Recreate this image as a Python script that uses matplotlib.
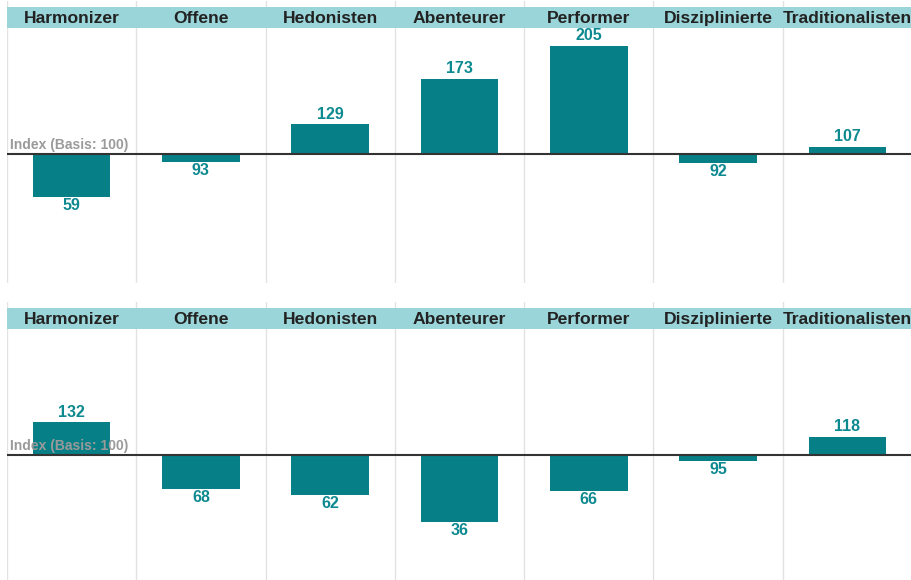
import matplotlib.pyplot as plt

# Sinus-Milieus, Index (Basis: 100)
groups = ["Harmonizer", "Offene", "Hedonisten", "Abenteurer", "Performer",
          "Disziplinierte", "Traditionalisten"]
index_top = [59, 93, 129, 173, 205, 92, 107]
index_bottom = [132, 68, 62, 36, 66, 95, 118]

BAR = "#077f86"
LABEL = "#0d8990"
HEAD = "#9ad5d9"
GRID = "#e2e2e2"

plt.rcParams["font.family"] = ["Liberation Sans", "DejaVu Sans"]

W, H = 912, 580
fig = plt.figure(figsize=(W / 100, H / 100), dpi=100)


def px_axes(x0, y0, x1, y1):
    # pixel box (top-left origin) -> figure axes
    return fig.add_axes([x0 / W, 1 - y1 / H, (x1 - x0) / W, (y1 - y0) / H])


def panel(values, top):
    head_top, head_bot, bottom = top, top + 21, top + 276
    ymin, ymax = -24, 222

    # separators, running through the header gap too
    sep = px_axes(7, top - 6, 912, bottom)
    sep.set_xlim(-0.5, 6.5)
    sep.set_ylim(0, 1)
    sep.axis("off")
    for x in [-0.5, 0.5, 1.5, 2.5, 3.5, 4.5, 5.5]:
        sep.axvline(x, color=GRID, lw=1, zorder=0)

    hd = px_axes(7, head_top, 912, head_bot)
    hd.set_xlim(-0.5, 6.5)
    hd.set_ylim(0, 1)
    hd.axis("off")
    hd.axhspan(0, 1, color=HEAD, zorder=0)
    for i, g in enumerate(groups):
        hd.text(i, 0.45, g, ha="center", va="center", fontsize=12.6,
                fontweight="bold", color="#222222")

    ax = px_axes(7, head_bot, 912, bottom)
    ax.set_xlim(-0.5, 6.5)
    ax.set_ylim(ymin, ymax)
    ax.axis("off")
    ax.patch.set_alpha(0)
    ax.bar(range(len(values)), [v - 100 for v in values], bottom=100,
           width=0.6, color=BAR, zorder=2)
    ax.axhline(100, color="#333333", lw=1.5, zorder=3)
    for i, v in enumerate(values):
        if v >= 100:
            ax.annotate(str(v), (i, v), xytext=(0, 2), textcoords="offset points",
                        ha="center", va="bottom", fontsize=11.5,
                        fontweight="bold", color=LABEL)
        else:
            ax.annotate(str(v), (i, v), xytext=(0, -1), textcoords="offset points",
                        ha="center", va="top", fontsize=11.5,
                        fontweight="bold", color=LABEL)
    ax.annotate("Index (Basis: 100)", (-0.5, 100), xytext=(2, 2),
                textcoords="offset points", ha="left", va="bottom",
                fontsize=10, fontweight="bold", color="#9a9a9a", zorder=4)


panel(index_top, 7)
panel(index_bottom, 308)

fig.savefig("out.png", dpi=100)
